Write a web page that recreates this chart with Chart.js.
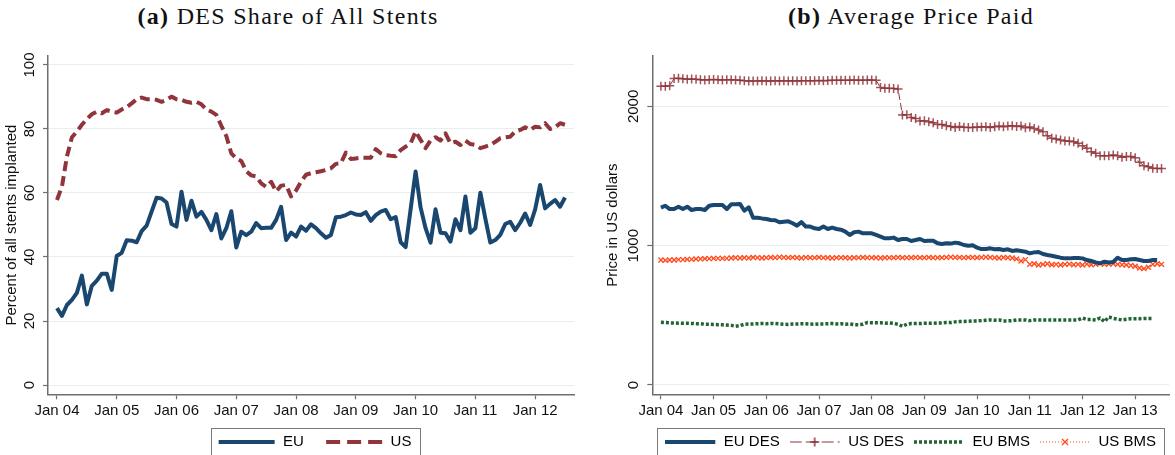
<!DOCTYPE html>
<html><head><meta charset="utf-8">
<script src="https://cdn.jsdelivr.net/npm/chart.js@4.4.1/dist/chart.umd.min.js"></script>
<style>
html,body{margin:0;padding:0;background:#fff;width:1175px;height:455px;overflow:hidden;position:relative;}
.panel{position:absolute;top:0;height:470px;}
#pa{left:0;width:590px;} #pb{left:590px;width:585px;}
.title{position:absolute;top:0;font-family:'Liberation Serif','Times New Roman',serif;font-size:24px;letter-spacing:1.3px;white-space:nowrap;transform:translateX(-50%);line-height:32px;color:#111;}
</style></head><body>
<div class="title" style="left:288px"><b>(a)</b> DES Share of All Stents</div>
<div class="title" style="left:911px"><b>(b)</b> Average Price Paid</div>
<div class="panel" id="pa"><canvas id="ca" width="590" height="470"></canvas></div>
<div class="panel" id="pb"><canvas id="cb" width="585" height="470"></canvas></div>
<script>
// ---- data (monthly, index 0 = Jan 2004) ----
const xTickPosA = [0,12,24,36,48,60,72,84,96];
const xTickLabelsA = ['Jan 04','Jan 05','Jan 06','Jan 07','Jan 08','Jan 09','Jan 10','Jan 11','Jan 12'];
const yTicksA = [0,20,40,60,80,100];
const xTickPosB = [0,12,24,36,48,60,72,84,96,108];
const xTickLabelsB = ['Jan 04','Jan 05','Jan 06','Jan 07','Jan 08','Jan 09','Jan 10','Jan 11','Jan 12','Jan 13'];
const yTicksB = [0,1000,2000];

const euShare = [24.0,21.6,25.0,26.6,28.8,34.2,25.2,31.0,32.6,34.8,34.8,29.7,
 40.3,41.3,45.2,45.1,44.6,48.1,49.8,54.2,58.5,58.3,57.0,50.3,
 49.5,60.4,51.6,57.6,52.6,54.1,51.6,48.4,53.4,45.8,49.0,54.3,
 43.0,47.9,46.8,47.9,50.6,49.0,49.1,49.1,51.6,55.7,45.3,47.6,
 46.4,49.5,48.2,50.2,49.0,47.4,46.0,46.9,52.4,52.6,53.1,53.9,
 53.3,53.1,54.0,51.3,53.1,54.2,54.7,51.8,52.5,44.6,43.1,54.9,
 66.7,55.5,49.0,44.5,54.9,47.6,47.4,44.8,51.8,48.4,58.9,47.6,
 49.0,60.1,52.0,44.5,45.3,46.9,50.3,51.0,48.4,50.7,53.6,50.0,
 54.9,62.5,55.2,56.6,57.8,55.7,58.6];
const usShare = [57.8,62.0,71.4,77.4,79.2,81.3,83.1,84.6,85.4,84.9,85.9,85.4,
 85.1,86.1,86.8,88.0,89.3,89.8,89.3,89.3,89.1,88.5,89.1,90.1,
 89.3,89.1,88.5,88.2,88.5,87.7,86.1,85.4,84.4,81.0,77.8,72.4,
 70.8,70.0,66.8,65.5,65.2,63.0,61.9,63.5,60.5,62.3,62.5,58.9,
 60.8,63.5,65.7,66.2,66.5,66.8,67.2,67.7,69.1,69.3,72.6,70.6,
 70.8,71.0,71.0,71.0,73.7,72.4,71.8,71.6,71.5,73.4,74.5,75.5,
 79.2,76.6,74.0,76.4,77.4,76.4,78.6,75.5,76.0,75.0,76.4,75.3,
 75.0,74.0,74.5,75.0,76.0,77.1,77.4,77.6,79.2,79.7,80.5,79.7,
 80.7,80.5,81.8,80.0,80.5,81.8,81.3];

const euDes = [1273,1287,1263,1263,1280,1263,1280,1256,1263,1263,1256,1287,
 1292,1292,1292,1263,1297,1297,1300,1251,1276,1201,1201,1196,
 1192,1185,1183,1168,1172,1175,1161,1144,1170,1137,1137,1125,
 1120,1137,1120,1130,1120,1115,1101,1077,1096,1101,1089,1089,
 1089,1077,1065,1053,1053,1058,1041,1048,1048,1034,1041,1048,
 1034,1036,1036,1017,1012,1017,1015,1022,1017,1005,1000,1003,
 986,976,976,981,974,976,969,974,962,967,962,957,
 945,952,955,940,933,928,921,914,909,909,912,912,
 909,897,890,880,873,885,880,883,914,897,897,902,
 904,897,890,890,897,897];
const usDes = [2145,2145,2148,2200,2202,2198,2195,2196,2195,2192,2190,2192,
 2193,2192,2190,2192,2191,2190,2188,2185,2183,2182,2183,2184,
 2183,2182,2184,2183,2184,2183,2184,2183,2184,2185,2184,2185,
 2186,2185,2186,2187,2188,2187,2188,2188,2189,2188,2188,2189,
 2189,2188,2135,2130,2130,2128,2125,1938,1940,1920,1914,1895,
 1897,1890,1883,1871,1870,1862,1855,1848,1855,1850,1848,1849,
 1852,1853,1854,1849,1854,1859,1854,1859,1862,1856,1860,1847,
 1852,1842,1831,1819,1790,1771,1766,1759,1752,1752,1747,1735,
 1718,1699,1675,1663,1646,1646,1646,1651,1646,1635,1640,1640,
 1632,1599,1574,1567,1556,1554,1554];
const euBms = [450,448,446,445,444,443,443,442,440,440,436,436,
 434,433,432,430,428,422,426,436,437,438,440,441,
 440,442,441,438,436,435,437,438,440,439,437,436,
 438,438,440,441,438,440,436,438,433,432,436,448,
 447,446,446,443,445,442,436,421,436,441,441,441,
 443,443,443,445,445,448,448,453,455,455,458,460,
 460,462,465,467,465,467,460,460,462,467,467,467,
 462,467,467,467,467,467,467,467,467,467,467,467,
 481,470,470,467,481,455,488,478,472,467,472,476,
 476,476,478,478,478];
const usBms = [897,895,897,897,900,900,902,902,905,905,907,907,
 909,909,909,909,912,914,912,914,912,916,914,912,
 914,916,914,918,916,914,916,914,912,916,914,914,
 916,914,914,912,914,914,914,912,914,914,916,914,
 914,914,912,914,914,914,916,914,914,914,916,914,
 914,916,914,914,914,916,918,916,916,914,916,916,
 914,916,918,916,914,912,916,914,912,905,890,900,
 866,870,861,866,870,863,866,861,866,868,863,866,
 861,868,863,866,873,866,868,870,866,863,861,858,
 852,840,835,845,866,870,866];

// ---- styling ----
const NAVY = '#1a476f', MAROON = '#90353b', GREEN = '#1f6432', ORANGE = '#ff4a1c';
const AXIS = '#6e6e6e', GRID = '#e6eef1', TXT = '#111';
Chart.defaults.font.family = "'Liberation Sans', Arial, sans-serif";
Chart.defaults.font.size = 15;
Chart.defaults.color = TXT;
Chart.defaults.animation = false;

const toXY = arr => arr.map((v, i) => ({x: i, y: v}));

// legend sample canvases: blank lead, then the line sample
function sample(total, lead, draw) {
  const c = document.createElement('canvas');
  c.width = total; c.height = 14;
  const g = c.getContext('2d');
  g.translate(lead, 0);
  draw(g, total - lead - 1);
  return c;
}
const dEU = (g, w) => { g.strokeStyle = NAVY; g.lineWidth = 4; g.beginPath(); g.moveTo(0, 7); g.lineTo(w, 7); g.stroke(); };
const dUS = (g, w) => { g.strokeStyle = MAROON; g.lineWidth = 4; g.setLineDash([14, 7]); g.beginPath(); g.moveTo(0, 7); g.lineTo(w, 7); g.stroke(); };
const dUSDES = (g, w) => { g.strokeStyle = MAROON; g.lineWidth = 1.2; g.setLineDash([12, 4]); g.beginPath(); g.moveTo(0, 7); g.lineTo(w, 7); g.stroke(); g.setLineDash([]); g.lineWidth = 1.5; g.beginPath(); g.moveTo(w/2 - 4.5, 7); g.lineTo(w/2 + 4.5, 7); g.moveTo(w/2, 2.5); g.lineTo(w/2, 11.5); g.stroke(); };
const dEUBMS = (g, w) => { g.strokeStyle = GREEN; g.lineWidth = 3.5; g.setLineDash([3, 2]); g.beginPath(); g.moveTo(0, 7); g.lineTo(w, 7); g.stroke(); };
const dUSBMS = (g, w) => { g.strokeStyle = ORANGE; g.lineWidth = 1; g.setLineDash([1, 2]); g.beginPath(); g.moveTo(0, 7); g.lineTo(w, 7); g.stroke(); g.setLineDash([]); g.lineWidth = 1.4; g.beginPath(); g.moveTo(w/2 - 3, 4); g.lineTo(w/2 + 3, 10); g.moveTo(w/2 + 3, 4); g.lineTo(w/2 - 3, 10); g.stroke(); };

const legendFrame = {
  id: 'legendFrame',
  afterDraw(chart, args, opts) {
    const lg = chart.legend;
    if (!lg || !lg.legendHitBoxes || !lg.legendHitBoxes.length) return;
    let l = Infinity, r = -Infinity;
    lg.legendHitBoxes.forEach(h => { l = Math.min(l, h.left); r = Math.max(r, h.left + h.width); });
    l += (opts.lead || 0);
    const pad = lg.options.labels.padding;
    const midY = lg.top + pad + 7.5;
    const ctx = chart.ctx;
    ctx.save();
    ctx.strokeStyle = '#7a7a7a'; ctx.lineWidth = 1;
    ctx.strokeRect(Math.round(l - 8) + 0.5, Math.round(midY - 14) + 0.5, Math.round(r - l + 16), 60);
    ctx.restore();
  }
};

function makeChart(id, cfg) {
  return new Chart(document.getElementById(id), {
    type: 'line',
    data: { datasets: cfg.datasets },
    plugins: [legendFrame],
    options: {
      responsive: false,
      animation: false,
      layout: { padding: { top: 56, left: 0, right: cfg.padRight, bottom: 10.5 } },
      elements: { line: { tension: 0, borderJoinStyle: 'round' }, point: { radius: 0, hoverRadius: 0 } },
      plugins: {
        tooltip: { enabled: false },
        legendFrame: { lead: cfg.lead },
        legend: {
          position: 'bottom', fullSize: false,
          labels: {
            usePointStyle: true, pointStyleWidth: cfg.boxW, padding: cfg.legPad,
            font: { size: 15 }, color: TXT,
            generateLabels: () => cfg.legend.map((it, i) => ({
              text: it.text, pointStyle: sample(cfg.boxW, cfg.lead, it.draw), fillStyle: 'rgba(0,0,0,0)',
              strokeStyle: 'rgba(0,0,0,0)', lineWidth: 0, hidden: false, datasetIndex: i
            }))
          }
        }
      },
      scales: {
        x: {
          type: 'linear', min: cfg.xMin, max: cfg.xMax,
          afterBuildTicks: s => { s.ticks = cfg.xPos.map(v => ({ value: v })); },
          afterFit: s => { s.height = cfg.xH; },
          ticks: { autoSkip: false, maxRotation: 0, minRotation: 0, padding: 3, color: TXT, font: { size: 15 },
                   callback: v => cfg.xLabels[cfg.xPos.indexOf(v)] },
          grid: { drawOnChartArea: false, drawTicks: true, tickLength: 5, color: AXIS, tickWidth: 1.2 },
          border: { color: AXIS, width: 1.5 }
        },
        y: {
          type: 'linear', min: cfg.yMin, max: cfg.yMax,
          afterBuildTicks: s => { s.ticks = cfg.yTicks.map(v => ({ value: v })); },
          afterFit: s => { s.width = cfg.yW; },
          ticks: { minRotation: 90, maxRotation: 90, crossAlign: 'center', padding: cfg.yTickPad, color: TXT, font: { size: 15 },
                   callback: v => String(v) },
          grid: { color: GRID, lineWidth: 1, drawTicks: true, tickLength: 5, tickColor: AXIS, tickWidth: 1.2 },
          border: { color: AXIS, width: 1.5 },
          title: { display: true, text: cfg.yTitle, color: TXT, font: { size: 15 }, padding: { top: cfg.yTitlePad, bottom: 0 } }
        }
      }
    }
  });
}

makeChart('ca', {
  datasets: [
    { label: 'EU', data: toXY(euShare), borderColor: NAVY, borderWidth: 4, fill: false },
    { label: 'US', data: toXY(usShare), borderColor: MAROON, borderWidth: 4, borderDash: [10, 5], fill: false }
  ],
  legend: [ { text: 'EU', draw: dEU }, { text: 'US', draw: dUS } ],
  boxW: 65, lead: 8, legPad: 14.2, padRight: 16,
  xMin: -1.8, xMax: 103.8, xPos: xTickPosA, xLabels: xTickLabelsA, xH: 26,
  yMin: -2.9, yMax: 102.8, yTicks: yTicksA, yW: 48, yTickPad: 0.5,
  yTitle: 'Percent of all stents implanted', yTitlePad: 3
});

makeChart('cb', {
  datasets: [
    { label: 'EU DES', data: toXY(euDes), borderColor: NAVY, borderWidth: 4, fill: false },
    { label: 'US DES', data: toXY(usDes), borderColor: MAROON, borderWidth: 1, borderDash: [7, 3], fill: false,
      pointStyle: 'cross', pointRadius: 4.5, pointBorderWidth: 1.5, pointBorderColor: 'rgba(144,53,59,0.85)' },
    { label: 'EU BMS', data: toXY(euBms), borderColor: GREEN, borderWidth: 3.5, borderDash: [3, 2], fill: false },
    { label: 'US BMS', data: toXY(usBms), borderColor: ORANGE, borderWidth: 1, borderDash: [1, 2], fill: false,
      pointStyle: 'crossRot', pointRadius: 3.5, pointBorderWidth: 1.3, pointBorderColor: ORANGE }
  ],
  legend: [ { text: 'EU DES', draw: dEU }, { text: 'US DES', draw: dUSDES }, { text: 'EU BMS', draw: dEUBMS }, { text: 'US BMS', draw: dUSBMS } ],
  boxW: 51, lead: 0, legPad: 10, padRight: 0,
  xMin: -1.96, xMax: 115.7, xPos: xTickPosB, xLabels: xTickLabelsB, xH: 30.2,
  yMin: -67, yMax: 2362, yTicks: yTicksB, yW: 62.3, yTickPad: -2.9,
  yTitle: 'Price in US dollars', yTitlePad: 14
});
</script>
</body></html>
